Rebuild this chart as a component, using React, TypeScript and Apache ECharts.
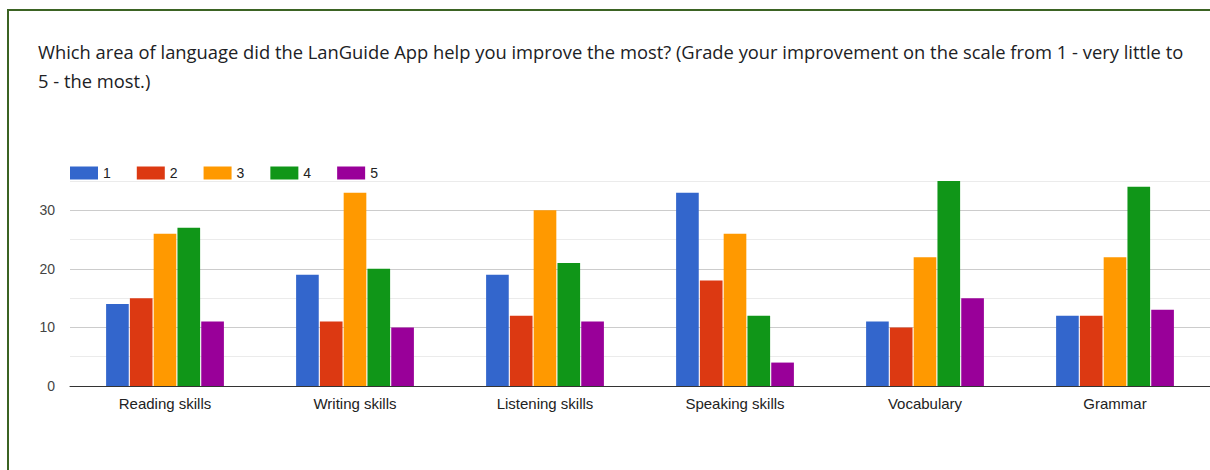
import React, { useEffect, useRef } from "react";
import * as echarts from "echarts";

const categories = ["Reading skills", "Writing skills", "Listening skills", "Speaking skills", "Vocabulary", "Grammar"];
const seriesNames = ["1", "2", "3", "4", "5"];
const grade1 = [14, 19, 19, 33, 11, 12];
const grade2 = [15, 11, 12, 18, 10, 12];
const grade3 = [26, 33, 30, 26, 22, 22];
const grade4 = [27, 20, 21, 12, 35, 34];
const grade5 = [11, 10, 11, 4, 15, 13];
const seriesData = [grade1, grade2, grade3, grade4, grade5];
const colors = ["#3366cc", "#dc3912", "#ff9900", "#109618", "#990099"];
const titleText =
  "Which area of language did the LanGuide App help you improve the most? (Grade your improvement on the scale from 1 - very little to\n5 - the most.)";

export default function App() {
  const ref = useRef<HTMLDivElement>(null);
  useEffect(() => {
    if (!ref.current) return;
    const chart = echarts.init(ref.current, undefined, { renderer: "svg" });
    chart.setOption({
      animation: false,
      backgroundColor: "#ffffff",
      color: colors,
      title: {
        text: titleText,
        left: 33,
        top: 32,
        textStyle: {
          fontFamily: "Open Sans",
          fontSize: 18.35,
          fontWeight: "normal",
          color: "#202124",
          lineHeight: 29,
        },
      },
      legend: {
        left: 70,
        top: 166,
        padding: 0,
        itemWidth: 28,
        itemHeight: 13,
        itemGap: 26,
        icon: "rect",
        textStyle: { fontFamily: "Arial, Liberation Sans", fontSize: 14, color: "#222" },
        data: seriesNames,
      },
      graphic: [
        {
          type: "rect",
          shape: { x: 8, y: 10, width: 1400, height: 700 },
          style: { fill: "none", stroke: "#3b6323", lineWidth: 2 },
          silent: true,
          z: 100,
        },
      ],
      grid: { left: 70, top: 181, width: 1144, height: 205, containLabel: false },
      xAxis: {
        type: "category",
        data: categories,
        axisLine: { lineStyle: { color: "#333", width: 1 } },
        axisTick: { show: false },
        axisLabel: {
          fontFamily: "Arial, Liberation Sans",
          fontSize: 15,
          color: "#222",
          margin: 10,
        },
      },
      yAxis: {
        type: "value",
        min: 0,
        max: 35,
        interval: 5,
        axisLine: { show: false },
        axisTick: { show: false },
        axisLabel: {
          fontFamily: "Arial, Liberation Sans",
          fontSize: 14,
          color: "#444",
          margin: 15,
          formatter: (v: number) => (v % 10 === 0 ? String(v) : ""),
        },
        splitLine: { lineStyle: { color: ["#cccccc", "#ebebeb"], width: 1 } },
      },
      series: seriesNames.map((name, i) => ({
        name,
        type: "bar",
        data: seriesData[i],
        barGap: "5%",
        barCategoryGap: "38%",
        itemStyle: { color: colors[i] },
      })),
    });
    return () => chart.dispose();
  }, []);
  return (
    <div
      ref={ref}
      style={{ position: "fixed", left: 0, top: 0, width: 1210, height: 470, overflow: "hidden" }}
    />
  );
}
